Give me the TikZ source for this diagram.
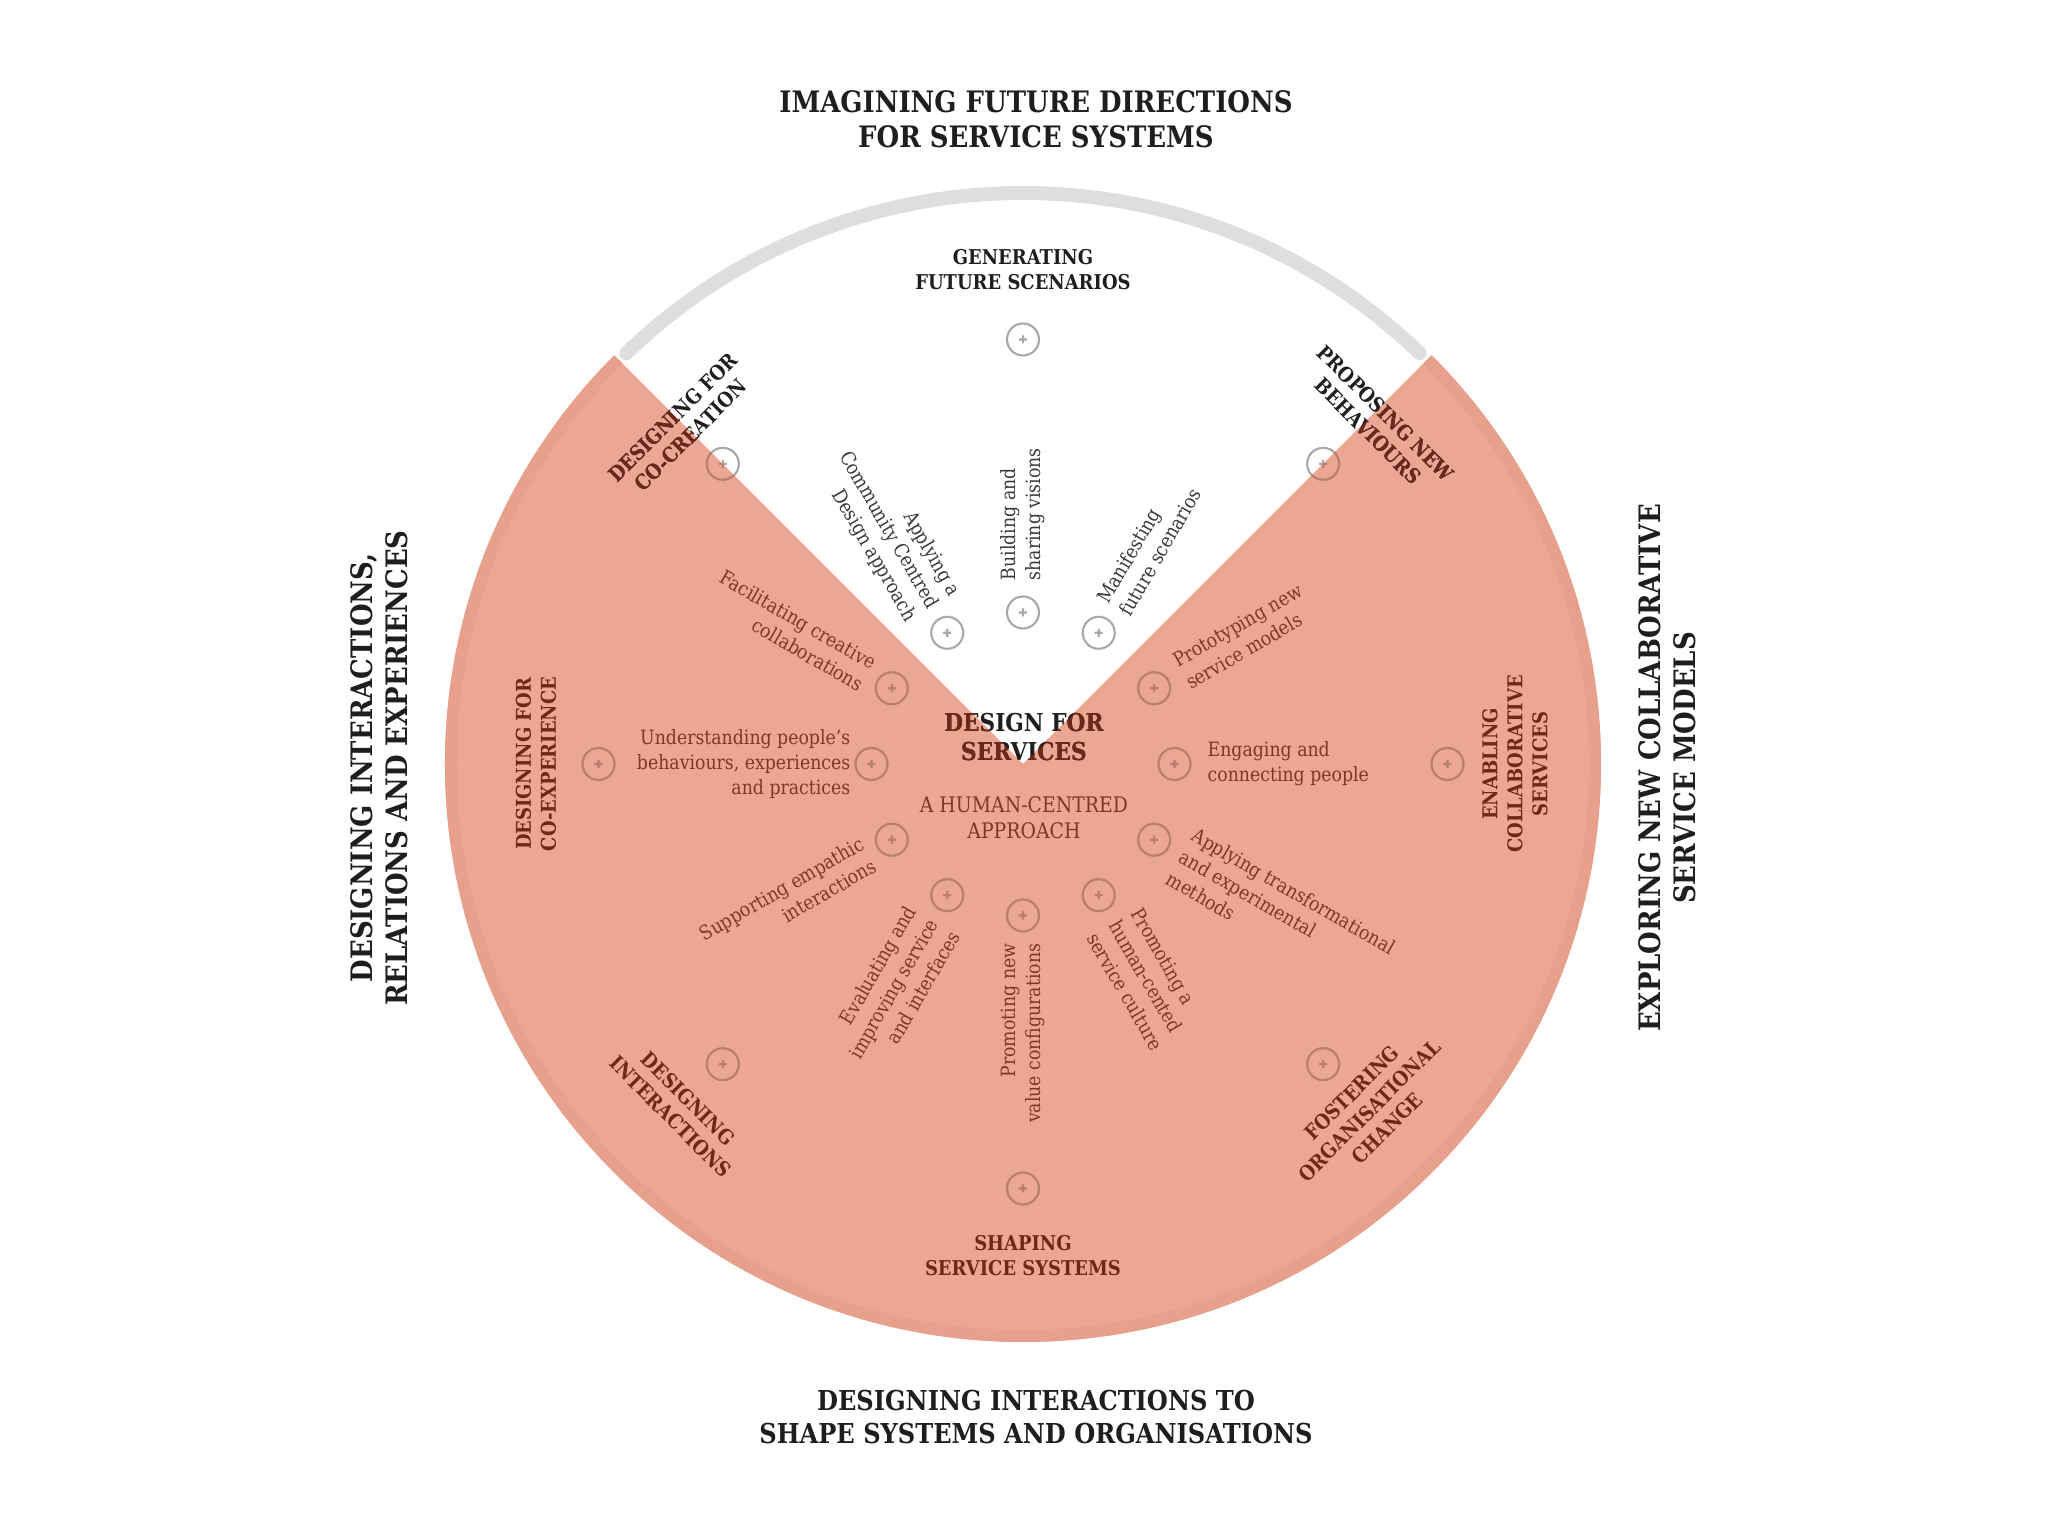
\documentclass[tikz,border=0pt]{standalone}
\usepackage{fontspec}
\setmainfont{DejaVu Serif}[FakeStretch=0.88]
\usepackage{tikz}
\definecolor{dsSalmon}{HTML}{ECA794}
\definecolor{dsRim}{HTML}{E6A08C}
\definecolor{dsInk}{HTML}{1E1E1E}
\definecolor{dsGrey}{HTML}{3A3A3A}
\definecolor{dsBrown}{HTML}{6E2819}
\definecolor{dsRust}{HTML}{7F3626}
\definecolor{dsDot}{HTML}{A8A8A8}
\definecolor{dsDotRed}{HTML}{BE7D6B}
\definecolor{dsArc}{HTML}{DEDEDE}

\begin{document}
\begin{tikzpicture}[
  headline/.style={text=dsInk, font=\bfseries\fontsize{8.4}{10}\selectfont, align=center},
  ringlabel/.style={text=dsBrown, font=\bfseries\fontsize{5.8}{7.1}\selectfont, align=center},
  aimright/.style={text=dsRust, font=\fontsize{5.6}{7.2}\selectfont, inner sep=0pt, anchor=west, align=left},
  aimleft/.style={text=dsRust, font=\fontsize{5.6}{7.2}\selectfont, inner sep=0pt, anchor=east, align=right},
  hub/.style={draw=dsDot, line width=0.6pt},
  hubred/.style={draw=dsDotRed, line width=0.6pt}]
  \useasboundingbox (-10.23,-7.72) rectangle (10.25,7.64);
  \fill[white] (-10.23,-7.72) rectangle (10.25,7.64);
  % disc with the open wedge
  \draw[dsArc, line width=0.14cm, line cap=round] (134:5.71) arc[start angle=134, end angle=46, radius=5.71];
  \fill[dsSalmon] (0,0) -- (45:5.78) arc[start angle=45, end angle=-225, radius=5.78] -- cycle;
  \draw[dsRim, line width=0.12cm] (45:5.72) arc[start angle=45, end angle=-225, radius=5.72];
  % markers
  \foreach \a in {0,30,...,330}
    \draw[hub] (\a:1.515) circle (0.16) +(-0.04,0) -- +(0.04,0) +(0,-0.04) -- +(0,0.04);
  \foreach \a in {0,45,...,315}
    \draw[hub] (\a:4.245) circle (0.16) +(-0.04,0) -- +(0.04,0) +(0,-0.04) -- +(0,0.04);
  % headings
  \node[headline] (imagining) at (0.13,6.45) {IMAGINING FUTURE DIRECTIONS\\FOR SERVICE SYSTEMS};
  \node[headline, font=\bfseries\fontsize{7.8}{9.4}\selectfont] (organisations) at (0.13,-6.53) {DESIGNING INTERACTIONS TO\\SHAPE SYSTEMS AND ORGANISATIONS};
  \node[headline, rotate=90] (relations) at (-6.44,-0.04) {DESIGNING INTERACTIONS,\\RELATIONS AND EXPERIENCES};
  \node[headline, rotate=90] (exploring) at (6.44,-0.04) {EXPLORING NEW COLLABORATIVE\\SERVICE MODELS};
  % outer ring
  \node[ringlabel, text=dsInk] (generating) at (90:4.94) {GENERATING\\FUTURE SCENARIOS};
  \node[ringlabel, text=dsInk, rotate=45] (cocreation) at (135.3:4.8) {DESIGNING FOR\\CO-CREATION};
  \node[ringlabel, text=dsInk, rotate=-45] (proposing) at (44:4.92) {PROPOSING NEW\\BEHAVIOURS};
  \node[ringlabel, rotate=90] (coexperience) at (180:4.87) {DESIGNING FOR\\CO-EXPERIENCE};
  \node[ringlabel, rotate=90] (enabling) at (0:4.92) {ENABLING\\COLLABORATIVE\\SERVICES};
  \node[ringlabel, rotate=-45] (interactions) at (225:4.86) {DESIGNING\\INTERACTIONS};
  \node[ringlabel, rotate=45] (fostering) at (315:4.9) {FOSTERING\\ORGANISATIONAL\\CHANGE};
  \node[ringlabel] (shapingsys) at (270:4.92) {SHAPING\\SERVICE SYSTEMS};
  % centre
  \node[text=dsInk, font=\bfseries\fontsize{7}{8.2}\selectfont, align=center] (dfs) at (0.01,0.27) {DESIGN FOR\\SERVICES};
  \node[text=dsRust, font=\fontsize{6.1}{7.4}\selectfont, align=center] (hca) at (0.01,-0.54) {A HUMAN-CENTRED\\APPROACH};
  % inner ring
  \node[aimright] (engaging) at (0:1.84) {Engaging and\\connecting people};
  \node[aimright, rotate=30] (prototyping) at (30:1.82) {Prototyping new\\service models};
  \node[aimright, rotate=60, text=dsGrey] (manifesting) at (60:1.8) {Manifesting\\future scenarios};
  \node[aimright, rotate=90, text=dsGrey] (building) at (90:1.83) {Building and\\sharing visions};
  \node[aimright, rotate=-60] (culture) at (300:1.82) {Promoting a\\human-cented\\service culture};
  \node[aimright, rotate=-30] (transforming) at (330:1.82) {Applying transformational\\and experimental\\methods};
  \node[aimleft, rotate=-60, text=dsGrey] (community) at (120:1.8) {Applying a\\Community Centred\\Design approach};
  \node[aimleft, rotate=-30] (facilitating) at (150:1.78) {Facilitating creative\\collaborations};
  \node[aimleft] (understanding) at (180:1.72) {Understanding people's\\behaviours, experiences\\and practices};
  \node[aimleft, rotate=30] (supporting) at (210:1.78) {Supporting empathic\\interactions};
  \node[aimleft, rotate=60] (evaluating) at (240:1.8) {Evaluating and\\improving service\\and interfaces};
  \node[aimleft, rotate=90] (valueconf) at (270:1.79) {Promoting new\\value configurations};
  % parts lying on the disc take its darker ink
  \begin{scope}
    \clip (0,0) -- (45:5.78) arc[start angle=45, end angle=-225, radius=5.78] -- cycle;
    \foreach \a in {0,30,...,330}
      \draw[hubred] (\a:1.515) circle (0.16) +(-0.04,0) -- +(0.04,0) +(0,-0.04) -- +(0,0.04);
    \foreach \a in {0,45,...,315}
      \draw[hubred] (\a:4.245) circle (0.16) +(-0.04,0) -- +(0.04,0) +(0,-0.04) -- +(0,0.04);
    \node[ringlabel, rotate=45] (cocreationR) at (135.3:4.8) {DESIGNING FOR\\CO-CREATION};
    \node[ringlabel, rotate=-45] (proposingR) at (44:4.92) {PROPOSING NEW\\BEHAVIOURS};
    \node[text=dsBrown, font=\bfseries\fontsize{7}{8.2}\selectfont, align=center] (dfsR) at (0.01,0.27) {DESIGN FOR\\SERVICES};
  \end{scope}
\end{tikzpicture}
\end{document}
